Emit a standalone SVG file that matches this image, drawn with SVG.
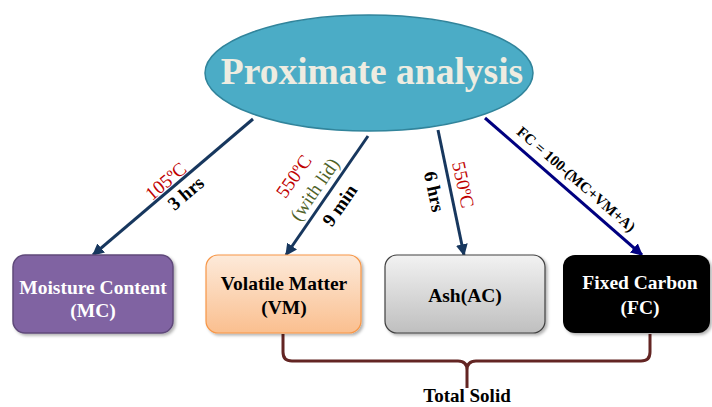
<svg xmlns="http://www.w3.org/2000/svg" width="712" height="407" viewBox="0 0 712 407">
<style>
.t{font-family:"Liberation Serif","Times New Roman",serif;font-weight:bold;}
.box{font-size:19.5px;text-anchor:middle;}
.lbl{font-family:"Liberation Serif","Times New Roman",serif;font-size:19px;text-anchor:middle;}
.conn{fill:none;stroke:#17375E;stroke-width:3;}
</style>
<defs>
<marker id="ah" viewBox="0 0 10 10" refX="9" refY="5" markerWidth="4" markerHeight="4" orient="auto" markerUnits="strokeWidth">
<path d="M0,0 L10,5 L0,10 z" fill="#17375E"/>
</marker>
<marker id="ah2" viewBox="0 0 10 10" refX="9" refY="5" markerWidth="4" markerHeight="4" orient="auto" markerUnits="strokeWidth">
<path d="M0,0 L10,5 L0,10 z" fill="#000080"/>
</marker>
<linearGradient id="gVM" x1="0" y1="0" x2="0" y2="1">
<stop offset="0" stop-color="#FDEADA"/><stop offset="1" stop-color="#FABF8F"/>
</linearGradient>
<linearGradient id="gAsh" x1="0" y1="0" x2="0" y2="1">
<stop offset="0" stop-color="#F2F2F2"/><stop offset="1" stop-color="#BFBFBF"/>
</linearGradient>
<filter id="sh" x="-10%" y="-10%" width="130%" height="130%">
<feDropShadow dx="2" dy="2" stdDeviation="1.5" flood-color="#000" flood-opacity="0.3"/>
</filter>
</defs>
<g id="connectors">
<line class="conn" x1="253" y1="119" x2="93" y2="255" marker-end="url(#ah)"/>
<line class="conn" x1="368" y1="136" x2="286" y2="255" marker-end="url(#ah)"/>
<line class="conn" x1="438" y1="130" x2="464" y2="255" marker-end="url(#ah)"/>
<line class="conn" x1="485" y1="118" x2="642" y2="255" style="stroke:#000080" marker-end="url(#ah2)"/>
<path d="M283,334 V352 Q283,361 292,361 H458 Q467,361 467,370 V388 M467,370 Q467,361 476,361 H641 Q650,361 650,352 V334" fill="none" stroke="#632523" stroke-width="3"/>
<text class="lbl" transform="translate(170,186) rotate(-40.4)" fill="#C00000">105ºC</text>
<text class="lbl t" transform="translate(190,198) rotate(-40.4)" fill="#000">3 hrs</text>
<text class="lbl" transform="translate(299,180) rotate(-55)" fill="#C00000">550ºC</text>
<text class="lbl" transform="translate(320,193) rotate(-55)" fill="#4F6228">(with lid)</text>
<text class="lbl t" transform="translate(345,209) rotate(-55)" fill="#000">9 min</text>
<text class="lbl t" transform="translate(428,193) rotate(78)" fill="#000">6 hrs</text>
<text class="lbl" transform="translate(457,186) rotate(78)" fill="#C00000">550ºC</text>
<text class="t" transform="translate(573,183) rotate(41)" font-size="15" text-anchor="middle" fill="#000">FC = 100-(MC+VM+A)</text>
<text class="t" x="467" y="402" font-size="19" text-anchor="middle" fill="#000">Total Solid</text>
</g>
<g id="title">
<ellipse cx="369" cy="73" rx="164" ry="58" fill="#4BACC6" stroke="#31849B" stroke-width="1.5"/>
<text class="t" x="372" y="84" font-size="37.5" text-anchor="middle" fill="#EEECE1">Proximate analysis</text>
</g>
<g id="mc">
<rect x="13" y="255" width="160" height="78" rx="12" fill="#8064A2" stroke="#5F497A" stroke-width="1.5" filter="url(#sh)"/>
<text class="t box" x="93" y="294" fill="#FFFFFF">Moisture Content</text>
<text class="t box" x="93" y="317" fill="#FFFFFF">(MC)</text>
</g>
<g id="vm">
<rect x="206" y="255" width="155" height="78" rx="12" fill="url(#gVM)" stroke="#F79646" stroke-width="1.2" filter="url(#sh)"/>
<text class="t box" x="284" y="290" fill="#000">Volatile Matter</text>
<text class="t box" x="284" y="314" fill="#000">(VM)</text>
</g>
<g id="ash">
<rect x="385" y="255" width="160" height="78" rx="12" fill="url(#gAsh)" stroke="#404040" stroke-width="1.2" filter="url(#sh)"/>
<text class="t box" x="465" y="302" fill="#000">Ash(AC)</text>
</g>
<g id="fc">
<rect x="563" y="255" width="147" height="78" rx="12" fill="#000000" filter="url(#sh)"/>
<text class="t box" x="640" y="289" fill="#FFFFFF">Fixed Carbon</text>
<text class="t box" x="640" y="314" fill="#FFFFFF">(FC)</text>
</g>
</svg>
